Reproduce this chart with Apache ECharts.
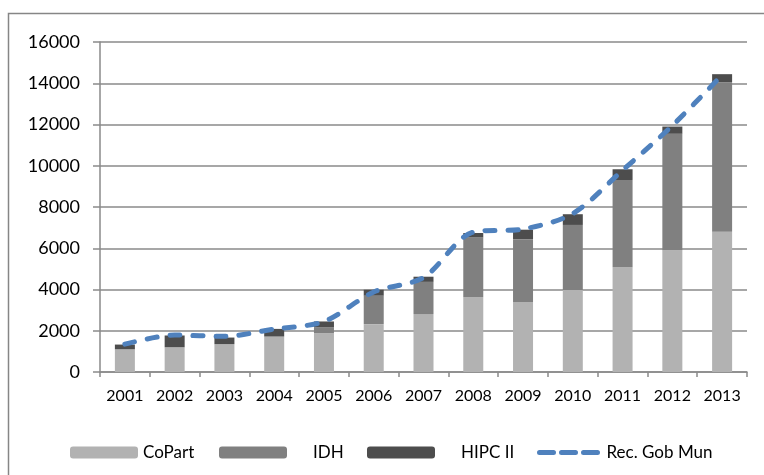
<!DOCTYPE html>
<html>
<head>
<meta charset="utf-8">
<script src="https://cdn.jsdelivr.net/npm/echarts@6/dist/echarts.min.js"></script>
<style>
  html, body { margin: 0; padding: 0; background: #fff; }
  #chart { width: 764px; height: 475px; }
</style>
</head>
<body>
<div id="chart"></div>
<script>
const years = ["2001", "2002", "2003", "2004", "2005", "2006", "2007", "2008", "2009", "2010", "2011", "2012", "2013"];
const coPart = [1100, 1200, 1350, 1720, 1880, 2320, 2810, 3630, 3400, 3970, 5080, 5900, 6800];
const idh = [0, 0, 0, 0, 280, 1380, 1560, 2900, 3030, 3160, 4230, 5650, 7250];
const hipc = [230, 570, 320, 370, 290, 290, 250, 210, 470, 520, 520, 350, 390];
const recGobMun = [1350, 1790, 1730, 2080, 2450, 3880, 4580, 6780, 6930, 7680, 9780, 11950, 14400];
const yTicks = { min: 0, max: 16000, interval: 2000 };

const gray = "#8a8a8a";
const font = "Lato";

const chart = echarts.init(document.getElementById("chart"));

const legendBase = {
  top: 439,
  itemHeight: 12,
  itemWidth: 68,
  textStyle: { fontFamily: font, fontSize: 17, color: "#000" },
  selectedMode: false
};

chart.setOption({
  animation: false,
  textStyle: { fontFamily: font },
  graphic: [{
    type: "rect",
    shape: { x: 8.5, y: 13.5, width: 800, height: 500 },
    style: { fill: "none", stroke: "#868686", lineWidth: 1.5 },
    silent: true
  }],
  grid: { left: 100, right: 17, top: 42, bottom: 103 },
  legend: [
    Object.assign({}, legendBase, { left: 65, data: ["CoPart"] }),
    Object.assign({}, legendBase, { left: 214, data: ["IDH"], textStyle: Object.assign({}, legendBase.textStyle, { padding: [0, 0, 0, 21] }) }),
    Object.assign({}, legendBase, { left: 362, data: ["HIPC II"], textStyle: Object.assign({}, legendBase.textStyle, { padding: [0, 0, 0, 21] }) }),
    Object.assign({}, legendBase, { left: 532, itemWidth: 62, data: ["Rec. Gob Mun"],
      itemStyle: { opacity: 0 },
      lineStyle: { width: 5, type: [14, 8], cap: "round", color: "#4F81BD" } })
  ],
  xAxis: {
    type: "category",
    data: years,
    axisLine: { lineStyle: { color: gray, width: 1.5 } },
    axisTick: { show: true, length: 5, lineStyle: { color: gray, width: 1.5 } },
    axisLabel: { color: "#000", fontSize: 16, fontFamily: font, margin: 16, interval: 0 }
  },
  yAxis: {
    type: "value",
    min: yTicks.min,
    max: yTicks.max,
    interval: yTicks.interval,
    axisLine: { show: true, lineStyle: { color: gray, width: 1.5 } },
    axisTick: { show: true, length: 7, lineStyle: { color: gray, width: 1.5 } },
    splitLine: { lineStyle: { color: gray, width: 1.5 } },
    axisLabel: { color: "#000", fontSize: 18, fontFamily: font, margin: 20, formatter: (v) => String(v) }
  },
  series: [
    {
      name: "CoPart", type: "bar", stack: "total", barWidth: 20,
      itemStyle: { color: "#b2b2b2" }, data: coPart
    },
    {
      name: "IDH", type: "bar", stack: "total", barWidth: 20,
      itemStyle: { color: "#808080" }, data: idh
    },
    {
      name: "HIPC II", type: "bar", stack: "total", barWidth: 20,
      itemStyle: { color: "#4d4d4d" }, data: hipc
    },
    {
      name: "Rec. Gob Mun", type: "line", smooth: 0.3, showSymbol: false, symbol: "none",
      itemStyle: { color: "#4F81BD" },
      lineStyle: { color: "#4F81BD", width: 5, type: [10, 13], cap: "round" },
      data: recGobMun, z: 5
    }
  ]
});
</script>
</body>
</html>
